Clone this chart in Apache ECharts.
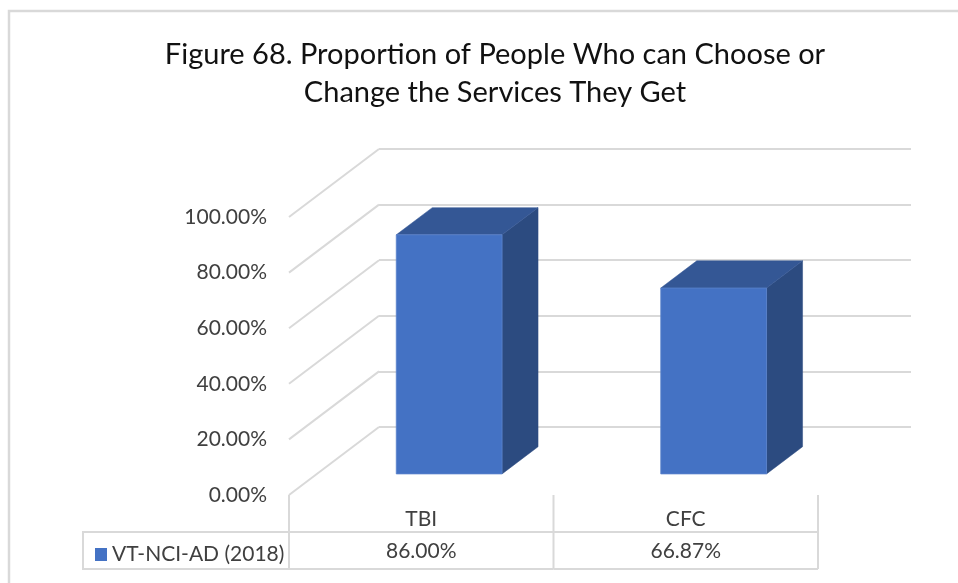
<!DOCTYPE html>
<html><head><meta charset="utf-8">
<script src="https://cdn.jsdelivr.net/npm/echarts@6/dist/echarts.min.js"></script>
<style>html,body{margin:0;padding:0;background:#fff}#c{width:958px;height:583px}</style>
</head><body><div id="c"></div>
<script>
var titleLines = ["Figure 68. Proportion of People Who can Choose or", "Change the Services They Get"];
var categories = ["TBI", "CFC"];
var seriesName = "VT-NCI-AD (2018)";
var values = [86.00, 66.87];
var yTicks = [0, 20, 40, 60, 80, 100];

var FONT = 'Lato,"Open Sans",sans-serif';
var DX = 90, DY = 68;         // depth of the 3D box
var F0 = 0.31, FD = 0.40;     // bar position in depth
var GRID = '#d9d9d9';
var TXT = '#404040';

var chart = echarts.init(document.getElementById('c'), null, {renderer: 'canvas'});
chart.setOption({
  animation: false,
  title: {
    text: titleLines.join('\n'), left: 490, top: 31, textAlign: 'center',
    textStyle: {fontFamily: FONT, fontSize: 29, fontWeight: 'normal', color: '#111', lineHeight: 38}
  },
  legend: {
    data: [seriesName], left: 90, top: 539, icon: 'rect', itemWidth: 12, itemHeight: 13, itemGap: 6,
    textStyle: {fontFamily: FONT, fontSize: 21, color: TXT}, selectedMode: false
  },
  graphic: [{
    type: 'rect', shape: {x: 9, y: 11, width: 1000, height: 700},
    style: {fill: 'none', stroke: '#d9d9d9', lineWidth: 2.5}, z: -1
  }],
  grid: [
    {left: 289, right: 140, top: 217, bottom: 88},
    {left: 379, right: 47, top: 149, bottom: 156}
  ],
  xAxis: [
    {type: 'category', gridIndex: 0, data: categories, axisLine: {show: false}, axisTick: {show: false},
     axisLabel: {margin: 14, fontFamily: FONT, fontSize: 21, color: TXT}},
    {type: 'category', gridIndex: 1, data: categories, show: false}
  ],
  yAxis: [
    {type: 'value', gridIndex: 0, min: 0, max: 100, interval: 20, splitLine: {show: false},
     axisLine: {show: false}, axisTick: {show: false},
     axisLabel: {margin: 22, fontFamily: FONT, fontSize: 21, color: TXT,
       formatter: function (v) { return v.toFixed(2) + '%'; }}},
    {type: 'value', gridIndex: 1, min: 0, max: 100, interval: 20,
     splitLine: {show: true, lineStyle: {color: GRID, width: 2}},
     axisLine: {show: false}, axisTick: {show: false}, axisLabel: {show: false}}
  ],
  series: [
    {
      type: 'custom', name: 'diag', xAxisIndex: 0, yAxisIndex: 0, silent: true,
      data: yTicks.map(function (t) { return [0, t]; }),
      renderItem: function (params, api) {
        var p = api.coord([0, api.value(1)]);
        var x0 = params.coordSys.x;
        return {type: 'line', shape: {x1: x0, y1: p[1], x2: x0 + DX, y2: p[1] - DY},
                style: {stroke: GRID, lineWidth: 2}};
      }
    },
    {
      type: 'custom', name: seriesName, xAxisIndex: 0, yAxisIndex: 0,
      itemStyle: {color: '#4472C4'},
      data: values.map(function (v, i) { return [i, v]; }),
      renderItem: function (params, api) {
        var i = api.value(0);
        var top = api.coord([i, api.value(1)]);
        var base = api.coord([i, 0]);
        var w = api.size([1, 0])[0] * 0.40;
        var ox = DX * F0, oy = DY * F0, dx = DX * FD, dy = DY * FD;
        var l = top[0] + ox - w / 2, r = l + w, t = top[1] - oy, b = base[1] - oy;
        return {type: 'group', children: [
          {type: 'polygon', shape: {points: [[r, t], [r + dx, t - dy], [r + dx, b - dy], [r, b]]},
           style: {fill: '#2C4B80', stroke: '#2C4B80', lineWidth: 0.5}},
          {type: 'polygon', shape: {points: [[l, t], [l + dx, t - dy], [r + dx, t - dy], [r, t]]},
           style: {fill: '#345795', stroke: '#345795', lineWidth: 0.5}},
          {type: 'rect', shape: {x: l, y: t, width: w, height: b - t},
           style: {fill: '#4472C4', stroke: '#5a83cc', lineWidth: 0.8}}
        ]};
      }
    },
    {
      type: 'custom', name: 'table', xAxisIndex: 0, yAxisIndex: 0, silent: true,
      data: values.map(function (v, i) { return [i, v]; }),
      renderItem: function (params, api) {
        var i = api.value(0);
        var c = api.coord([i, 0]);
        var w = api.size([1, 0])[0];
        var l = c[0] - w / 2, r = c[0] + w / 2;
        var yb = c[1], y1 = yb + 37, y2 = yb + 74;
        var ls = {stroke: GRID, lineWidth: 2};
        var ch = [
          {type: 'line', shape: {x1: r, y1: yb, x2: r, y2: y2}, style: ls},
          {type: 'line', shape: {x1: l, y1: y1, x2: r, y2: y1}, style: ls},
          {type: 'line', shape: {x1: l, y1: y2, x2: r, y2: y2}, style: ls},
          {type: 'text', style: {x: c[0], y: (y1 + y2) / 2 + 1, text: api.value(1).toFixed(2) + '%',
            textAlign: 'center', textVerticalAlign: 'middle', font: '21px ' + FONT, fill: TXT}}
        ];
        if (i === 0) {
          ch.push({type: 'line', shape: {x1: l, y1: yb, x2: l, y2: y2}, style: ls});
          ch.push({type: 'polyline', shape: {points: [[l, y1], [83, y1], [83, y2], [l, y2]]}, style: {stroke: GRID, lineWidth: 2, fill: 'none'}});
        }
        return {type: 'group', children: ch};
      }
    }
  ]
});
</script></body></html>
